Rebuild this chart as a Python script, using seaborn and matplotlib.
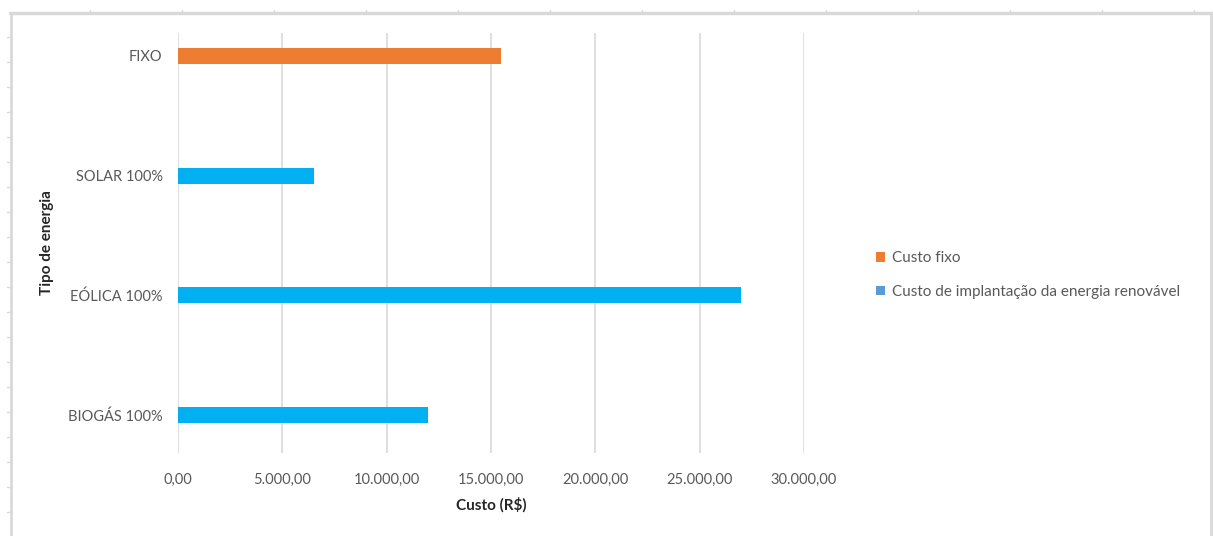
import matplotlib
matplotlib.use("Agg")
import matplotlib.pyplot as plt
import seaborn as sns
import pandas as pd
import numpy as np
from matplotlib.patches import Patch
from matplotlib.lines import Line2D
from matplotlib.ticker import FuncFormatter, MultipleLocator

# ---- data ----
categories = ["FIXO", "SOLAR 100%", "EÓLICA 100%", "BIOGÁS 100%"]
values = [15500, 6500, 27000, 12000]
series = ["Custo fixo",
          "Custo de implantação da energia renovável",
          "Custo de implantação da energia renovável",
          "Custo de implantação da energia renovável"]
legend_labels = ["Custo fixo", "Custo de implantação da energia renovável"]
x_label = "Custo (R$)"
y_label = "Tipo de energia"

df = pd.DataFrame({"tipo": categories, "valor": values, "serie": series})

sns.set_theme(style="white")
plt.rcParams["font.family"] = ["Lato", "DejaVu Sans"]

W, H = 1213, 536
fig = plt.figure(figsize=(W / 100, H / 100), dpi=100)
ax = fig.add_axes([178 / W, 1 - 453 / H, 626 / W, 420 / H])

bar_palette = {legend_labels[0]: "#ED7D31", legend_labels[1]: "#00B0F0"}
sns.barplot(data=df, x="valor", y="tipo", hue="serie", dodge=False,
            orient="h", width=0.134, palette=bar_palette, legend=False,
            saturation=1, linewidth=0, ax=ax, zorder=3)

ax.set_xlim(0, 30000)
ax.set_ylim(3.317, -0.192)
ax.xaxis.set_major_locator(MultipleLocator(5000))

def br_fmt(v, pos):
    s = f"{v:,.2f}"
    return s.replace(",", "X").replace(".", ",").replace("X", ".")

ax.xaxis.set_major_formatter(FuncFormatter(br_fmt))
ax.grid(axis="x", color="#d9d9d9", linewidth=1.2, zorder=0)
ax.grid(axis="y", visible=False)
for sp in ax.spines.values():
    sp.set_visible(False)
ax.tick_params(axis="both", length=0, colors="#595959", labelsize=10.5)
ax.tick_params(axis="x", pad=14)
ax.tick_params(axis="y", pad=11)
ax.set_xlabel(x_label, fontsize=11, fontweight="bold", color="#262626", labelpad=8)
ax.set_ylabel("")
fig.text(47 / W, 1 - 243 / H, y_label, rotation=90, ha="center", va="center",
         fontsize=11, fontweight="bold", color="#262626")

handles = [Patch(facecolor="#ED7D31", edgecolor="none"),
           Patch(facecolor="#5B9BD5", edgecolor="none")]
fig.legend(handles, legend_labels, loc="center left",
           bbox_to_anchor=(862 / W, 1 - 275 / H), frameon=False,
           handlelength=0.6, handleheight=0.6, handletextpad=0.45,
           labelspacing=1.3, fontsize=11, labelcolor="#595959")

# ---- outer frame decoration (screenshot border) ----
fc = "#d9d9d9"
fig.add_artist(Line2D([10 / W, 1212 / W], [1 - 13 / H, 1 - 13 / H], color=fc, lw=2.5))
fig.add_artist(Line2D([11 / W, 11 / W], [1 - 13 / H, 0], color=fc, lw=2))
fig.add_artist(Line2D([1211 / W, 1211 / W], [1 - 13 / H, 0], color=fc, lw=2))
for xt in np.arange(90, 1200, 92):
    fig.add_artist(Line2D([xt / W, xt / W], [1 - 13 / H, 1 - 10 / H], color=fc, lw=1))
for yt in np.arange(37, 536, 25):
    fig.add_artist(Line2D([7 / W, 11 / W], [1 - yt / H, 1 - yt / H], color=fc, lw=1))

fig.savefig("out.png", dpi=100, facecolor="white")
